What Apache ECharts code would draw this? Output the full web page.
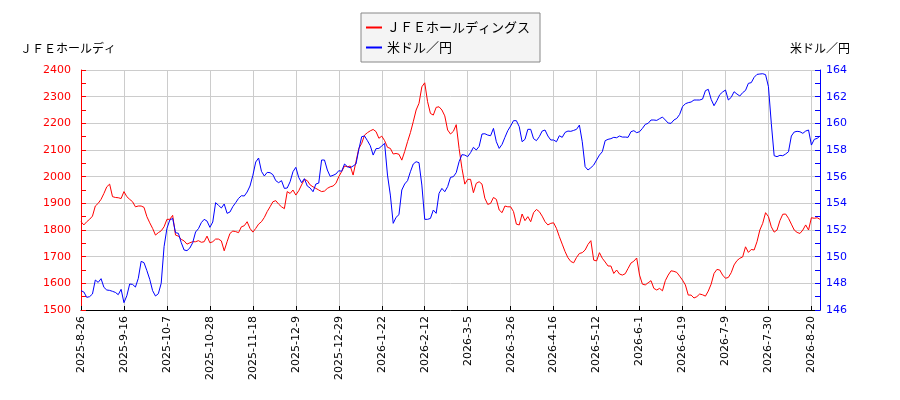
<!DOCTYPE html>
<html>
<head>
<meta charset="utf-8">
<script src="https://cdn.jsdelivr.net/npm/echarts@6/dist/echarts.min.js"></script>
<style>
html,body{margin:0;padding:0;background:#fff;}
#c{width:900px;height:400px;}
</style>
</head>
<body>
<div id="c"></div>
<script>
const tickLabels = ["2025-8-26","2025-9-16","2025-10-7","2025-10-28","2025-11-18","2025-12-9","2025-12-29","2026-1-22","2026-2-12","2026-3-5","2026-3-26","2026-4-16","2026-5-12","2026-6-1","2026-6-19","2026-7-9","2026-7-30","2026-8-20"];

const jfe = [
1831,1819,1831,1840,1852,1890,1900,1915,1937,1962,
1972,1925,1922,1921,1918,1944,1925,1915,1906,1887,
1890,1890,1885,1850,1827,1806,1781,1790,1797,1812,
1840,1840,1855,1781,1777,1765,1759,1747,1752,1756,
1756,1760,1754,1756,1777,1752,1756,1766,1766,1759,
1722,1756,1787,1796,1794,1790,1812,1816,1831,1806,
1792,1806,1822,1831,1847,1869,1887,1906,1910,1897,
1887,1880,1944,1937,1950,1931,1947,1969,1990,1985,
1969,1962,1956,1950,1944,1946,1956,1962,1965,1975,
2000,2019,2040,2037,2040,2006,2056,2106,2125,2156,
2165,2172,2177,2169,2144,2152,2135,2110,2106,2085,
2087,2084,2062,2094,2131,2165,2206,2250,2275,2337,
2352,2281,2237,2231,2260,2262,2250,2228,2175,2160,
2170,2195,2106,2031,1972,1990,1990,1940,1975,1981,
1972,1919,1896,1900,1922,1915,1875,1865,1890,1887,
1887,1869,1822,1819,1860,1835,1850,1831,1865,1877,
1869,1852,1831,1819,1825,1827,1806,1775,1747,1719,
1696,1682,1677,1697,1712,1715,1725,1746,1760,1687,
1684,1715,1694,1680,1665,1665,1637,1650,1635,1631,
1636,1656,1676,1683,1695,1631,1597,1594,1602,1610,
1581,1575,1581,1572,1610,1631,1647,1645,1641,1627,
1612,1594,1556,1556,1545,1550,1560,1557,1552,1571,
1597,1637,1652,1650,1631,1619,1622,1640,1669,1685,
1694,1699,1737,1716,1727,1725,1756,1800,1825,1865,
1850,1812,1792,1800,1835,1859,1860,1844,1822,1800,
1791,1787,1800,1819,1800,1846,1844,1846,1840
];

const usdjpy = [
147.45,147.35,146.95,147.0,147.2,148.25,148.07,148.35,147.7,147.5,
147.47,147.4,147.32,147.15,147.55,146.55,147.07,147.95,147.92,147.72,
148.37,149.65,149.55,148.95,148.3,147.45,147.05,147.22,148.0,150.75,
152.12,152.75,152.87,151.8,151.75,151.05,150.5,150.45,150.65,151.05,
151.85,152.1,152.55,152.8,152.67,152.2,152.6,154.05,153.85,153.65,
153.95,153.25,153.35,153.75,154.05,154.37,154.57,154.55,154.85,155.3,
156.1,157.1,157.4,156.4,156.05,156.32,156.3,156.15,155.7,155.55,
155.7,155.12,155.15,155.62,156.37,156.7,155.95,155.55,155.85,155.3,
155.15,154.87,155.45,155.52,157.25,157.25,156.5,156.02,156.1,156.2,
156.45,156.4,156.95,156.75,156.67,156.8,156.95,158.05,159.0,159.05,
158.7,158.32,157.62,158.1,158.12,158.3,158.5,156.12,154.62,152.5,
152.95,153.15,155.0,155.45,155.7,156.37,156.95,157.12,157.05,155.37,
152.8,152.8,152.87,153.5,153.25,154.75,155.12,154.87,155.25,155.95,
156.0,156.3,157.12,157.65,157.62,157.5,157.8,158.2,158.0,158.27,
159.2,159.22,159.12,159.07,159.62,158.62,158.12,158.42,158.95,159.45,
159.8,160.2,160.2,159.75,158.62,158.8,159.55,159.55,158.85,158.7,
159.0,159.42,159.5,159.05,158.75,158.75,158.62,159.07,158.95,159.32,
159.42,159.4,159.47,159.55,159.87,158.62,156.75,156.5,156.67,156.87,
157.25,157.62,157.87,158.7,158.8,158.85,158.95,158.92,159.05,158.97,
158.97,158.95,159.37,159.45,159.3,159.37,159.62,159.92,160.0,160.25,
160.25,160.22,160.35,160.47,160.25,160.02,160.0,160.25,160.37,160.67,
161.25,161.47,161.55,161.6,161.75,161.75,161.75,161.82,162.45,162.55,
161.8,161.32,161.7,162.15,162.35,162.5,161.75,161.95,162.37,162.2,
162.05,162.3,162.47,163.0,163.05,163.45,163.67,163.7,163.72,163.65,
162.75,160.0,157.57,157.5,157.6,157.57,157.7,157.87,159.05,159.35,
159.4,159.37,159.25,159.42,159.5,158.37,158.8,158.87,159.05
];

const seriesNames = ["ＪＦＥホールディングス", "米ドル／円"];
const axisNames = ["ＪＦＥホールディ", "米ドル／円"];

const categories = jfe.map((_, i) => String(i));

const chart = echarts.init(document.getElementById('c'), null, {renderer: 'canvas'});
const cjk = "'Noto Sans CJK JP', sans-serif";
const num = "'DejaVu Sans', sans-serif";

chart.setOption({
  animation: false,
  backgroundColor: '#fff',
  grid: {left: 81, right: 80, top: 70, bottom: 90, containLabel: false},
  legend: {
    data: seriesNames,
    orient: 'vertical',
    left: 361,
    top: 13,
    padding: [7, 10, 7, 5],
    itemGap: 5,
    itemWidth: 16,
    itemHeight: 2,
    icon: 'rect',
    backgroundColor: '#f4f4f4',
    borderColor: '#888',
    borderWidth: 1,
    textStyle: {color: '#000', fontFamily: cjk, fontSize: 13, lineHeight: 15}
  },
  xAxis: {
    type: 'category',
    data: categories,
    boundaryGap: false,
    axisLine: {lineStyle: {color: '#000', width: 1}},
    axisTick: {show: true, inside: true, interval: 14, length: 4, lineStyle: {color: '#000'}},
    axisLabel: {
      interval: 14, rotate: 90, color: '#000', fontSize: 11, fontFamily: num, margin: 6,
      formatter: function (v) { const k = Number(v) / 15; return Number.isInteger(k) && tickLabels[k] ? tickLabels[k] : ''; }
    },
    splitLine: {show: true, interval: 14, lineStyle: {color: '#cccccc', width: 1}}
  },
  yAxis: [
    {
      type: 'value', position: 'left', min: 1500, max: 2400, interval: 100,
      name: axisNames[0], nameLocation: 'end', nameGap: 16,
      nameTextStyle: {color: '#000', fontFamily: cjk, fontSize: 12, padding: [0, 26, 0, 0]},
      axisLine: {show: true, lineStyle: {color: '#ff0000', width: 1}},
      axisTick: {show: true, inside: true, length: 5, lineStyle: {color: '#ff0000'}},
      minorTick: {show: true, splitNumber: 2, length: 5, lineStyle: {color: '#ff0000'}},
      axisLabel: {color: '#ff0000', fontSize: 11, fontFamily: num, margin: 10, formatter: function (v) { return String(v); }},
      splitLine: {show: true, lineStyle: {color: '#cccccc', width: 1}}
    },
    {
      type: 'value', position: 'right', min: 146, max: 164, interval: 2,
      name: axisNames[1], nameLocation: 'end', nameGap: 16,
      nameTextStyle: {color: '#000', fontFamily: cjk, fontSize: 12},
      axisLine: {show: true, lineStyle: {color: '#0000ff', width: 1}},
      axisTick: {show: true, inside: true, length: 5, lineStyle: {color: '#0000ff'}},
      minorTick: {show: true, splitNumber: 2, length: 5, lineStyle: {color: '#0000ff'}},
      axisLabel: {color: '#0000ff', fontSize: 11, fontFamily: num, margin: 6, formatter: function (v) { return String(v); }},
      splitLine: {show: false}
    }
  ],
  series: [
    {
      name: seriesNames[0], type: 'line', yAxisIndex: 0, data: jfe,
      showSymbol: false, symbol: 'none', color: '#ff0000',
      lineStyle: {color: '#ff0000', width: 1}
    },
    {
      name: seriesNames[1], type: 'line', yAxisIndex: 1, data: usdjpy,
      showSymbol: false, symbol: 'none', color: '#0000ff',
      lineStyle: {color: '#0000ff', width: 1}
    }
  ]
});
</script>
</body>
</html>
